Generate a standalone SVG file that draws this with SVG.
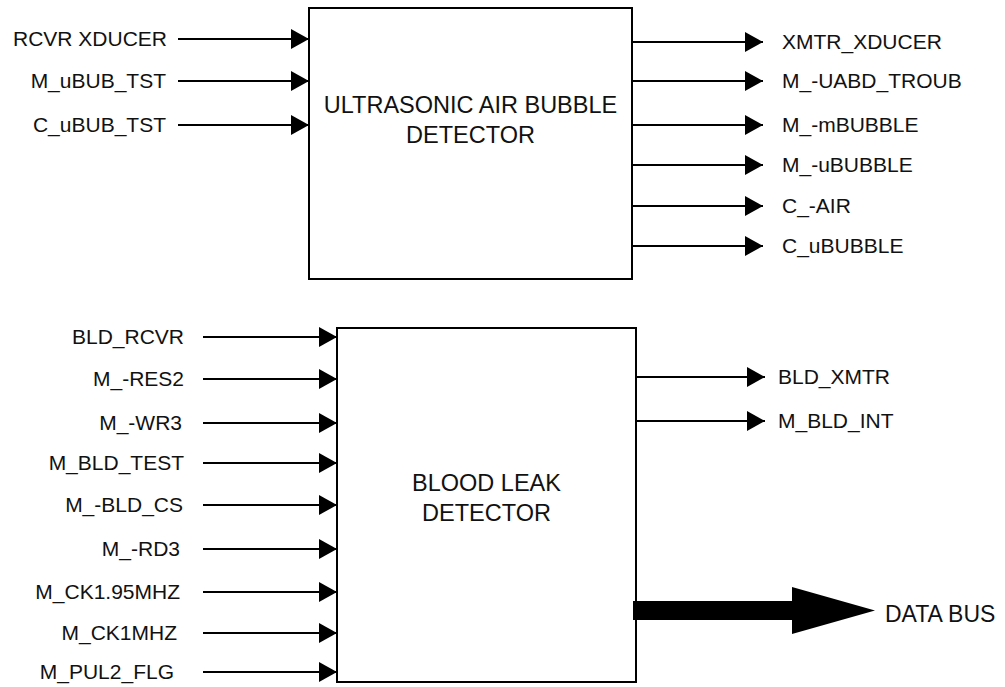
<svg xmlns="http://www.w3.org/2000/svg" width="1005" height="687" viewBox="0 0 1005 687">
  <style>
    .box { fill: #ffffff; stroke: #000000; stroke-width: 2; }
    .wire { stroke: #000000; stroke-width: 2.2; fill: none; marker-end: url(#head); }
    .lbl { font-family: "Liberation Sans", Arial, Helvetica, sans-serif; font-size: 21px; fill: #111111; }
    .in { text-anchor: end; }
    .bus { font-size: 23px; }
    .title { font-family: "Liberation Sans", Arial, Helvetica, sans-serif; font-size: 23.5px; fill: #111111; text-anchor: middle; }
  </style>
  <defs>
    <marker id="head" markerUnits="userSpaceOnUse" markerWidth="18" markerHeight="20" viewBox="0 0 18 20" refX="18" refY="10" orient="auto">
      <path d="M0,0 L18,10 L0,20 Z" fill="#000000"/>
    </marker>
  </defs>

  <rect width="1005" height="687" fill="#ffffff"/>

  <!-- Ultrasonic air bubble detector block -->
  <g id="uabd">
    <rect class="box" x="309" y="8" width="323" height="271"/>
    <text class="title" x="470.5" y="113">ULTRASONIC AIR BUBBLE</text>
    <text class="title" x="470.5" y="143">DETECTOR</text>
  </g>

  <!-- Blood leak detector block -->
  <g id="bld">
    <rect class="box" x="337" y="328" width="299" height="354"/>
    <text class="title" x="486.5" y="491">BLOOD LEAK</text>
    <text class="title" x="486.5" y="521">DETECTOR</text>
  </g>

  <!-- Signal connectors -->
  <g id="connectors">
    <!-- UABD inputs -->
    <line class="wire" x1="178" y1="39" x2="309" y2="39"/>
    <line class="wire" x1="178" y1="81" x2="309" y2="81"/>
    <line class="wire" x1="178" y1="125" x2="309" y2="125"/>
    <!-- UABD outputs -->
    <line class="wire" x1="632" y1="42" x2="763" y2="42"/>
    <line class="wire" x1="632" y1="81" x2="763" y2="81"/>
    <line class="wire" x1="632" y1="125" x2="763" y2="125"/>
    <line class="wire" x1="632" y1="165" x2="763" y2="165"/>
    <line class="wire" x1="632" y1="206" x2="763" y2="206"/>
    <line class="wire" x1="632" y1="246" x2="763" y2="246"/>
    <!-- BLD inputs -->
    <line class="wire" x1="203" y1="337" x2="337" y2="337"/>
    <line class="wire" x1="203" y1="379" x2="337" y2="379"/>
    <line class="wire" x1="203" y1="423" x2="337" y2="423"/>
    <line class="wire" x1="203" y1="463" x2="337" y2="463"/>
    <line class="wire" x1="203" y1="505" x2="337" y2="505"/>
    <line class="wire" x1="203" y1="549" x2="337" y2="549"/>
    <line class="wire" x1="203" y1="592" x2="337" y2="592"/>
    <line class="wire" x1="203" y1="633" x2="337" y2="633"/>
    <line class="wire" x1="203" y1="672" x2="337" y2="672"/>
    <!-- BLD outputs -->
    <line class="wire" x1="636" y1="377" x2="765" y2="377"/>
    <line class="wire" x1="636" y1="421" x2="765" y2="421"/>
    <!-- Data bus -->
    <path d="M633,601 L792,601 L792,587 L875,610.5 L792,634 L792,620 L633,620 Z" fill="#000000"/>
  </g>

  <!-- Signal names -->
  <g id="labels">
    <text class="lbl in" x="167" y="46">RCVR XDUCER</text>
    <text class="lbl in" x="166" y="88">M_uBUB_TST</text>
    <text class="lbl in" x="166" y="132">C_uBUB_TST</text>

    <text class="lbl" x="782" y="49">XMTR_XDUCER</text>
    <text class="lbl" x="782" y="88">M_-UABD_TROUB</text>
    <text class="lbl" x="782" y="132">M_-mBUBBLE</text>
    <text class="lbl" x="782" y="172">M_-uBUBBLE</text>
    <text class="lbl" x="782" y="213">C_-AIR</text>
    <text class="lbl" x="782" y="253">C_uBUBBLE</text>

    <text class="lbl in" x="184" y="344">BLD_RCVR</text>
    <text class="lbl in" x="184" y="386">M_-RES2</text>
    <text class="lbl in" x="182" y="430">M_-WR3</text>
    <text class="lbl in" x="184" y="470">M_BLD_TEST</text>
    <text class="lbl in" x="183" y="512">M_-BLD_CS</text>
    <text class="lbl in" x="180" y="556">M_-RD3</text>
    <text class="lbl in" x="180" y="599">M_CK1.95MHZ</text>
    <text class="lbl in" x="177" y="640">M_CK1MHZ</text>
    <text class="lbl in" x="174" y="679">M_PUL2_FLG</text>

    <text class="lbl" x="778" y="384">BLD_XMTR</text>
    <text class="lbl" x="778" y="428">M_BLD_INT</text>

    <text class="lbl bus" x="885" y="622">DATA BUS</text>
  </g>
</svg>
